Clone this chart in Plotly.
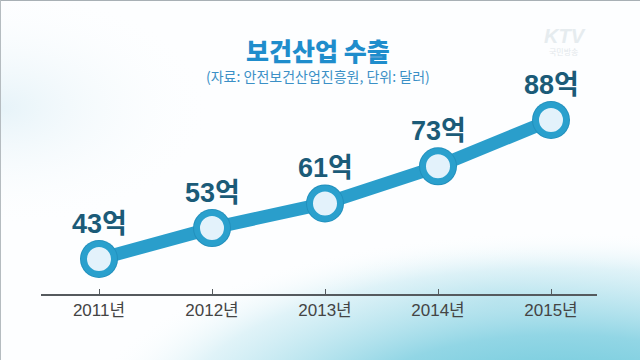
import base64
import plotly.graph_objects as go

# ---- data ----
years = ["2011년", "2012년", "2013년", "2014년", "2015년"]
exports = [43, 53, 61, 73, 88]          # 단위: 억 달러
value_labels = ["43억", "53억", "61억", "73억", "88억"]
title_text = "보건산업 수출"
subtitle_text = "(자료: 안전보건산업진흥원, 단위: 달러)"

W, H = 640, 360

# ---- background (decorative gradient) ----
svg = f"""<svg xmlns="http://www.w3.org/2000/svg" width="{W}" height="{H}" viewBox="0 0 {W} {H}">
<defs>
<radialGradient id="left" cx="0" cy="0.3" r="0.35">
<stop offset="0" stop-color="#e4f2f8" stop-opacity="0.9"/>
<stop offset="1" stop-color="#ffffff" stop-opacity="0"/>
</radialGradient>
<radialGradient id="sw" cx="0.5" cy="0.5" r="0.5">
<stop offset="0" stop-color="#5cc3d6"/>
<stop offset="0.45" stop-color="#92d6e5"/>
<stop offset="0.8" stop-color="#d3eef5" stop-opacity="0.7"/>
<stop offset="1" stop-color="#ffffff" stop-opacity="0"/>
</radialGradient>
<radialGradient id="sw2" cx="0.5" cy="0.5" r="0.5">
<stop offset="0" stop-color="#c2e6ef" stop-opacity="0.9"/>
<stop offset="1" stop-color="#ffffff" stop-opacity="0"/>
</radialGradient>
</defs>
<rect width="{W}" height="{H}" fill="#fdfeff"/>
<rect width="{W}" height="{H}" fill="url(#left)"/>
<ellipse cx="500" cy="300" rx="200" ry="55" fill="url(#sw2)"/>
<ellipse cx="560" cy="420" rx="480" ry="190" fill="url(#sw)"/>
<line x1="0" y1="0.5" x2="{W}" y2="0.5" stroke="#a8b0b5" stroke-width="1"/>
<line x1="0.5" y1="0" x2="0.5" y2="{H}" stroke="#b5bcc0" stroke-width="1"/>
</svg>"""
bg_uri = "data:image/svg+xml;base64," + base64.b64encode(svg.encode("utf-8")).decode()

fig = go.Figure()

# main line
fig.add_trace(go.Scatter(
    x=years, y=exports, mode="lines",
    line=dict(color="#2a9ecb", width=13),
    hoverinfo="skip", showlegend=False, cliponaxis=False,
))
# shadow ring of markers
fig.add_trace(go.Scatter(
    x=years, y=exports, mode="markers",
    marker=dict(size=38, color="#2290bd", line=dict(width=0)),
    hoverinfo="skip", showlegend=False, cliponaxis=False,
))
# markers
fig.add_trace(go.Scatter(
    x=years, y=exports, mode="markers",
    marker=dict(size=30, color="#e3f2fb", line=dict(color="#2aa0cd", width=6)),
    hoverinfo="skip", showlegend=False, cliponaxis=False,
))

annotations = []
for yr, v, lab in zip(years, exports, value_labels):
    annotations.append(dict(
        x=yr, y=v, xref="x", yref="y", text=lab, showarrow=False,
        yshift=35, xanchor="center", yanchor="middle",
        font=dict(family="Liberation Sans, Noto Sans CJK KR", size=27,
                  color="#1b5b78", weight="bold"),
    ))

annotations.append(dict(
    x=318 / W, y=1 - 50 / H, xref="paper", yref="paper", text=title_text,
    showarrow=False, xanchor="center", yanchor="middle",
    font=dict(family="Noto Sans CJK KR", size=25, color="#1f8dcc", weight=900),
))
annotations.append(dict(
    x=318 / W, y=1 - 76 / H, xref="paper", yref="paper", text=subtitle_text,
    showarrow=False, xanchor="center", yanchor="middle",
    font=dict(family="Noto Sans CJK KR", size=14, color="#3b90c6"),
))
# broadcaster logo
annotations.append(dict(
    x=565 / W, y=1 - 36 / H, xref="paper", yref="paper", text="<i><b>KTV</b></i>",
    showarrow=False, xanchor="center", yanchor="middle",
    font=dict(family="Liberation Sans", size=20, color="#e6ecef"),
))
annotations.append(dict(
    x=563 / W, y=1 - 52 / H, xref="paper", yref="paper", text="국민방송",
    showarrow=False, xanchor="center", yanchor="middle",
    font=dict(family="Noto Sans CJK KR", size=8, color="#e3e8eb"),
))

# scale: x spacing 113 px, y 3.089 px per unit
x0_px, x_left, x_right = 99, 41, 597
xr = [(x_left - x0_px) / 113, (x_right - x0_px) / 113]
y_top_px, y_bot_px = 20, 294
yr_rng = [43 - (y_bot_px - 259) / 3.089, 43 + (259 - y_top_px) / 3.089]

fig.update_layout(
    width=W, height=H,
    margin=dict(l=0, r=0, t=0, b=0),
    paper_bgcolor="white", plot_bgcolor="rgba(0,0,0,0)",
    images=[dict(source=bg_uri, xref="paper", yref="paper", x=0, y=1,
                 sizex=1, sizey=1, xanchor="left", yanchor="top",
                 sizing="stretch", layer="below")],
    annotations=annotations,
    xaxis=dict(
        domain=[x_left / W, x_right / W], range=xr, type="category",
        showgrid=False, zeroline=False, showline=True, linecolor="#555a5e",
        linewidth=1.5, ticks="inside", ticklen=5, tickcolor="#555a5e",
        tickwidth=1, automargin=False,
        tickfont=dict(family="Liberation Sans, Noto Sans CJK KR", size=17, color="#444444"),
        fixedrange=True,
    ),
    yaxis=dict(
        domain=[1 - y_bot_px / H, 1 - y_top_px / H], range=yr_rng,
        showgrid=False, zeroline=False, showline=False, showticklabels=False,
        ticks="", automargin=False, fixedrange=True,
    ),
    showlegend=False,
)

fig.write_html(
    "out.html",
    config={"displayModeBar": False},
    post_script="document.body.style.margin='0';document.body.style.overflow='hidden';",
)
